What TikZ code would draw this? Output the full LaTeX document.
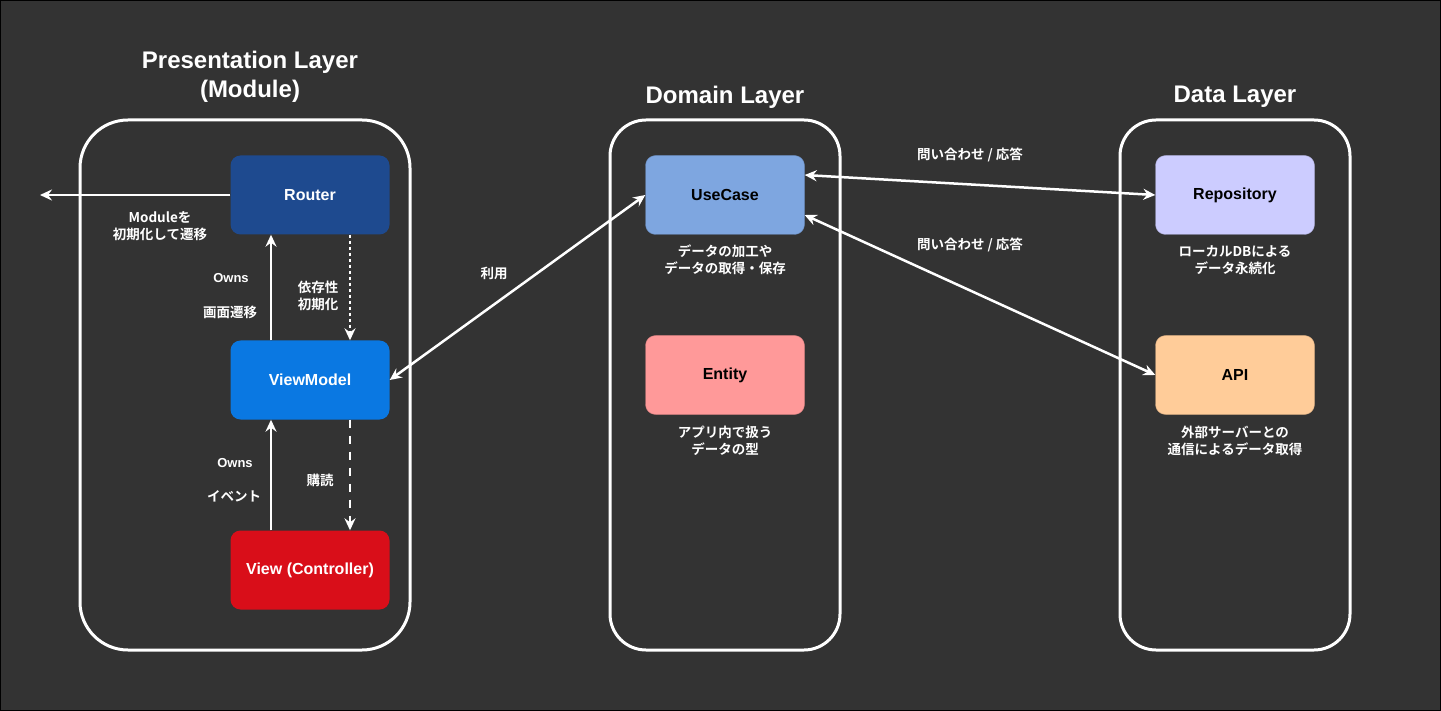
\documentclass[tikz,border=0pt]{standalone}
\usepackage{fontspec}
\setmainfont{Liberation Sans}
\newfontfamily\jp{Noto Sans CJK JP Bold}
\usetikzlibrary{positioning,arrows.meta}
\definecolor{bg}{HTML}{333333}
\definecolor{routerc}{HTML}{1E4A8F}
\definecolor{vmc}{HTML}{0A78E2}
\definecolor{viewc}{HTML}{D90E19}
\definecolor{usecasec}{HTML}{7EA6E0}
\definecolor{entityc}{HTML}{FF9999}
\definecolor{repoc}{HTML}{CCCCFF}
\definecolor{apic}{HTML}{FFCC99}
\tikzstyle{layer} = [draw=white,line width=3pt,rounded corners=40pt]
\tikzstyle{comp} = [rectangle,rounded corners=10pt,minimum width=159pt,minimum height=79pt,font=\fontsize{16}{19}\selectfont\bfseries]
\tikzstyle{edge} = [draw=white,line width=2.5pt,->]
\tikzstyle{lbl} = [text=white,align=center,font=\jp\fontsize{13.5}{17}\selectfont]
\tikzstyle{owns} = [text=white,font=\fontsize{13}{16}\selectfont\bfseries]
\tikzstyle{title} = [text=white,align=center,font=\fontsize{24}{29}\selectfont\bfseries]

\begin{document}
\begin{tikzpicture}[x=1pt,y=-1pt,on grid,>={Stealth[length=12pt,width=11pt,inset=4pt]}]
   \useasboundingbox (0,0) rectangle (1441,711);
   \fill[bg,draw=black,line width=1pt] (0.5,0.5) rectangle (1440.5,710.5);

   \node[title] (presT) at (250,77) {Presentation Layer\\(Module)};
   \node[title] (domainT) at (725,97) {Domain Layer};
   \node[title] (dataT) at (1235,97) {Data Layer};
   \draw[layer,rounded corners=48pt] (80,120) rectangle (410,650);
   \draw[layer,rounded corners=36pt] (610,120) rectangle (840,650);
   \draw[layer,rounded corners=36pt] (1120,120) rectangle (1350,650);

   \node[comp,fill=routerc,text=white] (router) at (310,195) {Router};
   \node[comp,fill=vmc,text=white] (viewmodel) [below=185pt of router] {ViewModel};
   \node[comp,fill=viewc,text=white] (view) [below=190pt of viewmodel] {View (Controller)};

   \node[comp,fill=usecasec,draw=usecasec!80!black,text=black] (usecase) at (725,195) {UseCase};
   \node[comp,fill=entityc,draw=entityc!80!black,text=black] (entity) [below=180pt of usecase] {Entity};
   \node[comp,fill=repoc,draw=repoc!80!black,text=black] (repo) at (1235,195) {Repository};
   \node[comp,fill=apic,draw=apic!80!black,text=black] (api) [below=180pt of repo] {API};

   \node[lbl] (usecaseNote) [below=65pt of usecase] {データの加工や\\データの取得・保存};
   \node[lbl] (entityNote) [below=66pt of entity] {アプリ内で扱う\\データの型};
   \node[lbl] (repoNote) [below=65pt of repo] {ローカルDBによる\\データ永続化};
   \node[lbl] (apiNote) [below=66pt of api] {外部サーバーとの\\通信によるデータ取得};

   \coordinate (exit) at (40,195);
   \draw[edge] (router) -- (exit);
   \node[lbl] (exitL) at (160,226) {Moduleを\\初期化して遷移};

   \draw[edge] ([xshift=-39pt]viewmodel.north) -- ([xshift=-39pt]router.south);
   \node[owns] (owns1) at (231,278) {Owns};
   \node[lbl] (nav) at (230,312) {画面遷移};
   \draw[edge,dash pattern=on 3pt off 3pt] ([xshift=40pt]router.south) -- ([xshift=40pt]viewmodel.north);
   \node[lbl] (inject) at (318,296) {依存性\\初期化};

   \draw[edge] ([xshift=-39pt]view.north) -- ([xshift=-39pt]viewmodel.south);
   \node[owns] (owns2) at (235,463) {Owns};
   \node[lbl] (event) at (234,496) {イベント};
   \draw[edge,dash pattern=on 8pt off 8pt] ([xshift=40pt]viewmodel.south) -- ([xshift=40pt]view.north);
   \node[lbl] (subscribe) at (320,480) {購読};

   \draw[edge,<->] (viewmodel.east) -- (usecase.west);
   \node[lbl] (use) at (494,273) {利用};
   \draw[edge,<->] ([yshift=20pt]usecase.east) -- (repo.west);
   \node[lbl] (query1) at (970,155) {問い合わせ / 応答};
   \draw[edge,<->] ([yshift=-20pt]usecase.east) -- (api.west);
   \node[lbl] (query2) at (970,245) {問い合わせ / 応答};
\end{tikzpicture}
\end{document}
